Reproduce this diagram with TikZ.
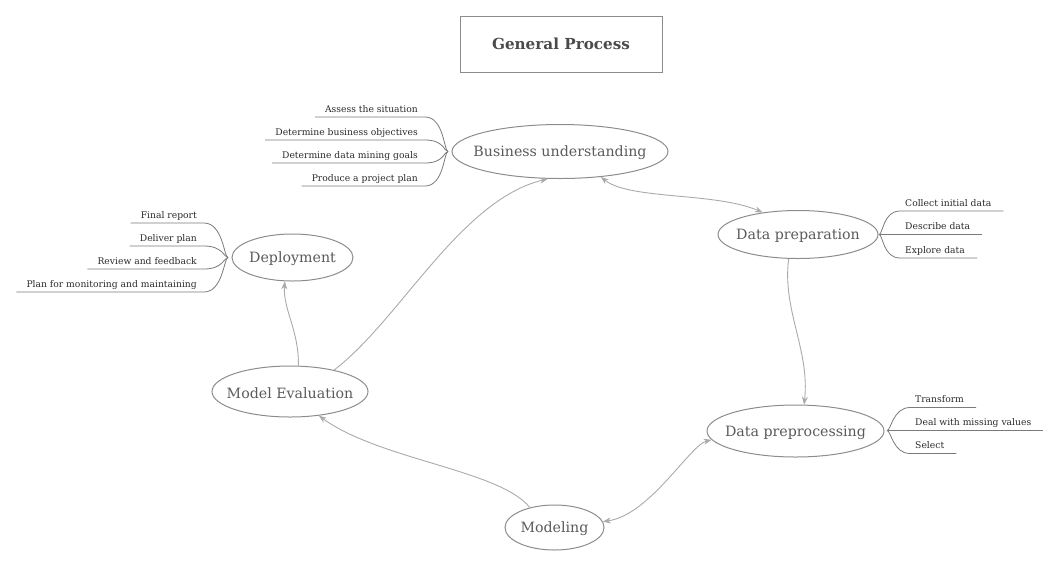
\documentclass[tikz,border=0pt]{standalone}
\usepackage{fontspec}
\setmainfont{DejaVu Serif}
\usetikzlibrary{shapes.geometric,arrows.meta,calc}
\definecolor{nodeline}{HTML}{8C8C8C}
\definecolor{nodetext}{HTML}{5A5A5A}
\definecolor{itemtext}{HTML}{2A2A2A}
\definecolor{branchline}{HTML}{7A7A7A}
\definecolor{connline}{HTML}{AAAAAA}
\definecolor{titletext}{HTML}{4A4A4A}
\tikzset{
  proc/.style={draw=nodeline, line width=1pt, ellipse, inner sep=0pt},
  proctext/.style={text=nodetext, font=\fontsize{14.2}{16}\selectfont, inner sep=0pt, yshift=-1.5pt},
  item/.style={text=itemtext, font=\fontsize{9.2}{11}\selectfont, inner sep=0pt},
  branch/.style={draw=branchline, line width=0.8pt},
  conn/.style={draw=connline, line width=0.9pt},
  tip/.style={-{Stealth[length=8pt,width=6pt]}},
  tips/.style={{Stealth[length=8pt,width=6pt]}-{Stealth[length=8pt,width=6pt]}}
}
\newcommand\lbranch[2]{\draw[branch] (#1) .. controls +(-4,0) and +(19,0) .. ($(#2.base east)+(7,5)$) -- ($(#2.base west)+(-10,5)$);}
\newcommand\rbranch[2]{\draw[branch] (#1) .. controls +(4,0) and +(-17,0) .. ($(#2.base west)+(-5,5)$) -- ($(#2.base east)+(12,5)$);}
\begin{document}
\begin{tikzpicture}[x=1pt,y=-1pt]
\useasboundingbox (0,0) rectangle (1059,566);
% title
\node[draw=nodeline, line width=1pt, minimum width=202pt, minimum height=56pt, inner sep=0pt,
      text=titletext, font=\fontsize{15.2}{17}\selectfont\bfseries] (title) at (561,44) {General Process};
% process nodes
\node[proc, minimum width=216pt, minimum height=54pt] (bu) at (560,151.5) {};
\node[proctext] (but) at (bu) {Business understanding};
\node[proc, minimum width=160pt, minimum height=48pt] (dp) at (798,234.5) {};
\node[proctext] (dpt) at (dp) {Data preparation};
\node[proc, minimum width=177pt, minimum height=52pt] (dpre) at (795.5,431) {};
\node[proctext] (dpret) at (dpre) {Data preprocessing};
\node[proc, minimum width=99pt, minimum height=45pt] (mod) at (554.5,527.5) {};
\node[proctext] (modt) at (mod) {Modeling};
\node[proc, minimum width=156pt, minimum height=51pt] (me) at (290,391.5) {};
\node[proctext] (met) at (me) {Model Evaluation};
\node[proc, minimum width=121pt, minimum height=47pt] (dep) at (292.5,257.5) {};
\node[proctext] (dept) at (dep) {Deployment};
% hubs
\coordinate (buhub) at (448,151.5);
\coordinate (dphub) at (879,234.5);
\coordinate (dprehub) at (887,430.5);
\coordinate (dephub) at (228,257.5);
% business understanding items
\node[item, anchor=base east] (bu1) at (418,112) {Assess the situation};
\node[item, anchor=base east] (bu2) at (418,135) {Determine business objectives};
\node[item, anchor=base east] (bu3) at (418,158) {Determine data mining goals};
\node[item, anchor=base east] (bu4) at (418,181) {Produce a project plan};
\lbranch{buhub}{bu1}\lbranch{buhub}{bu2}\lbranch{buhub}{bu3}\lbranch{buhub}{bu4}
% deployment items
\node[item, anchor=base east] (dep1) at (197,218) {Final report};
\node[item, anchor=base east] (dep2) at (197,241) {Deliver plan};
\node[item, anchor=base east] (dep3) at (197,264) {Review and feedback};
\node[item, anchor=base east] (dep4) at (197,287) {Plan for monitoring and maintaining};
\lbranch{dephub}{dep1}\lbranch{dephub}{dep2}\lbranch{dephub}{dep3}\lbranch{dephub}{dep4}
% data preparation items
\node[item, anchor=base west] (dp1) at (905,206) {Collect initial data};
\node[item, anchor=base west] (dp2) at (905,229.5) {Describe data};
\node[item, anchor=base west] (dp3) at (905,253) {Explore data};
\rbranch{dphub}{dp1}\rbranch{dphub}{dp2}\rbranch{dphub}{dp3}
% data preprocessing items
\node[item, anchor=base west] (dpre1) at (915,402.5) {Transform};
\node[item, anchor=base west] (dpre2) at (915,425.5) {Deal with missing values};
\node[item, anchor=base west] (dpre3) at (915,448.5) {Select};
\rbranch{dprehub}{dpre1}\rbranch{dprehub}{dpre2}\rbranch{dprehub}{dpre3}
% connectors
\draw[conn, tips] (bu.-32) .. controls (630,200) and (715,192) .. (dp.148);
\draw[conn, tip] (dp.-111) .. controls (782,310) and (810,350) .. (dpre.72);
\draw[conn, tips] (dpre.186) .. controls (690,445) and (650,515) .. (mod.7);
\draw[conn, tip] (mod.141) .. controls (500,470) and (380,460) .. (me.-40);
\draw[conn, tip] (me.72) .. controls (299,330) and (283,310) .. (dep.-108);
\draw[conn, tip] (me.26) .. controls (400,320) and (460,200) .. (bu.-114.5);
\end{tikzpicture}
\end{document}
